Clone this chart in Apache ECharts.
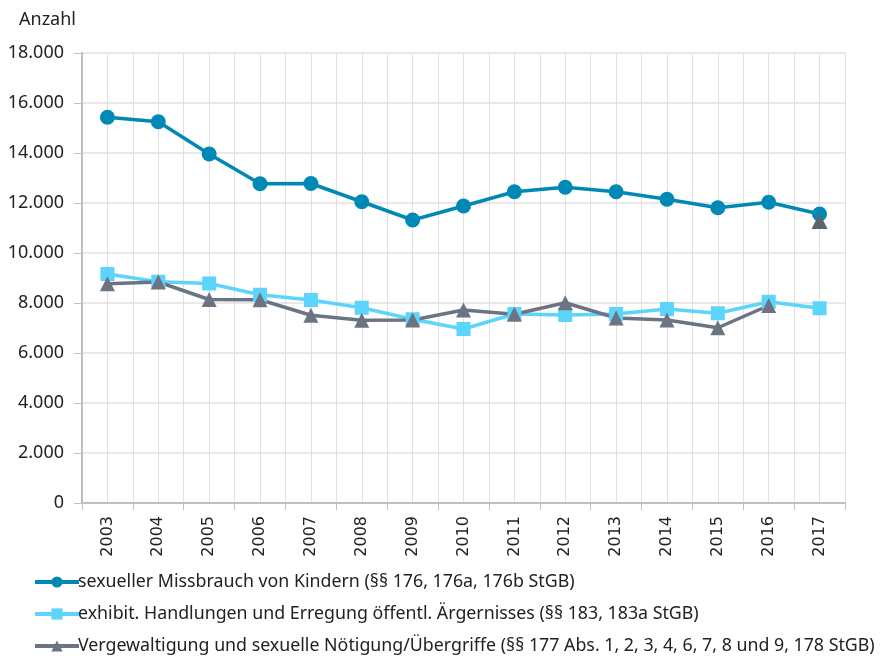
<!DOCTYPE html>
<html>
<head>
<meta charset="utf-8">
<script src="https://cdn.jsdelivr.net/npm/echarts@6/dist/echarts.min.js"></script>
<style>
  html, body { margin: 0; padding: 0; background: #fff; }
  #chart { width: 882px; height: 661px; }
</style>
</head>
<body>
<div id="chart"></div>
<script>
var years = ['2003', '2004', '2005', '2006', '2007', '2008', '2009', '2010',
             '2011', '2012', '2013', '2014', '2015', '2016', '2017'];
var missbrauch = [15430, 15250, 13960, 12770, 12780, 12050, 11320, 11880,
                  12450, 12630, 12450, 12150, 11810, 12030, 11560];
var exhibit = [9160, 8850, 8780, 8330, 8120, 7810, 7350, 6960,
               7560, 7520, 7560, 7760, 7590, 8050, 7790];
// 2017: Wert ohne Verbindungslinie (neue Rechtslage)
var vergewaltigung = [8770, 8840, 8140, 8130, 7510, 7310, 7320, 7720,
                      7550, 8010, 7400, 7320, 7010, 7900, 11280];
var names = [
    'sexueller Missbrauch von Kindern (§§ 176, 176a, 176b StGB)',
    'exhibit. Handlungen und Erregung öffentl. Ärgernisses (§§ 183, 183a StGB)',
    'Vergewaltigung und sexuelle Nötigung/Übergriffe (§§ 177 Abs. 1, 2, 3, 4, 6, 7, 8 und 9, 178 StGB)'
];

var font = '"Noto Sans", sans-serif';
var chart = echarts.init(document.getElementById('chart'));

function fmt(v) {
    return String(v).replace(/\B(?=(\d{3})+(?!\d))/g, '.');
}

var last = vergewaltigung.length - 1;
var vergLine = vergewaltigung.map(function(v, i) { return i === last ? '-' : v; });
var vergEnd = vergewaltigung.map(function(v, i) { return i === last ? v : '-'; });

var option = {
    animation: false,
    title: {
        text: 'Anzahl',
        left: 14, top: 6,
        textStyle: { fontFamily: font, fontSize: 18, fontWeight: 'normal', color: '#222' }
    },
    grid: { left: 82, right: 37, top: 53, bottom: 158 },
    legend: {
        orient: 'vertical',
        left: 28, top: 568,
        itemGap: 14,
        itemWidth: 44, itemHeight: 14,
        lineStyle: { width: 4 },
        textStyle: { fontFamily: font, fontSize: 17.8, color: '#222', padding: [0, 0, 0, -6] },
        data: names
    },
    xAxis: [{
        type: 'category',
        data: years,
        axisLine: { lineStyle: { color: '#bfbfbf', width: 2 } },
        axisTick: { show: true, length: 7, lineStyle: { color: '#bfbfbf' } },
        axisLabel: { rotate: 90, fontFamily: 'DejaVu Sans', fontSize: 16, color: '#222', margin: 13 },
        splitLine: { show: true, lineStyle: { color: '#e0e0e0' } }
    }, {
        type: 'value',
        min: -0.5, max: 14.5, interval: 0.5,
        axisLine: { show: false }, axisTick: { show: false }, axisLabel: { show: false },
        splitLine: { show: true, lineStyle: { color: '#e0e0e0' } }
    }],
    yAxis: {
        type: 'value',
        min: 0, max: 18000, interval: 2000,
        axisLine: { show: true, onZero: false, lineStyle: { color: '#bfbfbf', width: 2 } },
        axisTick: { show: true, length: 8, lineStyle: { color: '#bfbfbf' } },
        axisLabel: { fontFamily: font, fontSize: 18, color: '#222', margin: 18, formatter: fmt },
        splitLine: { lineStyle: { color: '#e0e0e0', width: 1.5 } }
    },
    series: [{
        name: names[0], type: 'line', data: missbrauch,
        symbol: 'circle', symbolSize: 15,
        lineStyle: { width: 3.5, color: '#0089b5' },
        itemStyle: { color: '#0089b5' }
    }, {
        name: names[1], type: 'line', data: exhibit,
        symbol: 'rect', symbolSize: 14,
        lineStyle: { width: 3.5, color: '#5dd4fb' },
        itemStyle: { color: '#5dd4fb' }
    }, {
        name: names[2], type: 'line', data: vergLine,
        symbol: 'triangle', symbolSize: 15,
        lineStyle: { width: 3.5, color: '#6b7482' },
        itemStyle: { color: '#6b7482' }
    }, {
        name: names[2], type: 'line', data: vergEnd,
        symbol: 'triangle', symbolSize: 16,
        showAllSymbol: true,
        lineStyle: { width: 0 },
        itemStyle: { color: '#5b6570' },
        z: 5
    }]
};
chart.setOption(option);
</script>
</body>
</html>
